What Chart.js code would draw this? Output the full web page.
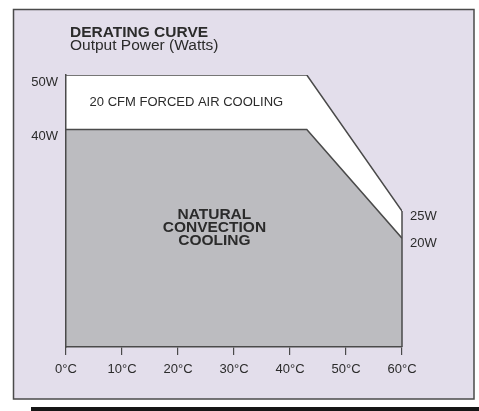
<!DOCTYPE html>
<html>
<head>
<meta charset="utf-8">
<script src="https://cdn.jsdelivr.net/npm/chart.js@4/dist/chart.umd.min.js"></script>
<style>
  html, body { margin: 0; padding: 0; background: #fff; }
  canvas { display: block; }
</style>
</head>
<body>
<canvas id="derating" width="479" height="411"></canvas>
<script>
"use strict";
// ambient temperature breakpoints (°C)
var temps = [0, 43, 60];
// output power (W) for each breakpoint
var forcedAir = [50, 50, 25];
var convection = [40, 40, 20];
// tick labels
var xTicks = [0, 10, 20, 30, 40, 50, 60];
var leftTicks = [40, 50];
var rightTicks = [20, 25];
var titleText = 'DERATING CURVE';
var subtitleText = 'Output Power (Watts)';
var forcedLabel = ['20 CFM FORCED AIR COOLING'];
var convectionLabel = ['NATURAL', 'CONVECTION', 'COOLING'];

var fontFamily = '"Liberation Sans", Arial, Helvetica, sans-serif';
var lineColor = '#4a4a4a';
var textColor = '#2b2b2b';
var lavender = '#e3deeb';
var grayFill = '#bcbcc0';

function points(ys) {
    return temps.map(function (t, i) { return { x: t, y: ys[i] }; });
}

var framePlugin = {
    id: 'frame',
    beforeDraw: function (chart) {
        var c = chart.ctx;
        c.save();
        c.fillStyle = '#ffffff';
        c.fillRect(0, 0, chart.width, chart.height);
        c.fillStyle = lavender;
        c.fillRect(13, 9, 461, 390);
        c.strokeStyle = lineColor;
        c.lineWidth = 1.5;
        c.strokeRect(13.5, 9.5, 460.5, 389.5);
        c.fillStyle = '#161616';
        c.fillRect(31, 407, 448, 4);

        c.fillStyle = textColor;
        c.textBaseline = 'alphabetic';
        c.font = 'bold 15.5px ' + fontFamily;
        c.fillText(titleText, 70, 37);
        c.font = '15.5px ' + fontFamily;
        c.fillText(subtitleText, 70, 50);
        c.restore();
    },
    afterDatasetsDraw: function (chart) {
        var c = chart.ctx;
        var xs = chart.scales.x;
        var ys = chart.scales.y;
        var last = temps.length - 1;
        c.save();
        // closing edge of the forced air area
        c.strokeStyle = lineColor;
        c.lineWidth = 1.5;
        c.beginPath();
        c.moveTo(xs.getPixelForValue(temps[last]), ys.getPixelForValue(forcedAir[last]));
        c.lineTo(xs.getPixelForValue(temps[last]), ys.getPixelForValue(0));
        c.stroke();

        c.fillStyle = textColor;
        c.textAlign = 'center';
        c.textBaseline = 'middle';
        c.font = '13px ' + fontFamily;
        var fx = xs.getPixelForValue((temps[0] + temps[1]) / 2);
        var fy = ys.getPixelForValue((forcedAir[0] + convection[0]) / 2);
        c.fillText(forcedLabel[0], fx, fy);

        c.font = 'bold 15.5px ' + fontFamily;
        var nx = xs.getPixelForValue(26.5);
        var ny = ys.getPixelForValue(22);
        convectionLabel.forEach(function (line, i) {
            c.fillText(line, nx, ny + (i - 1) * 13);
        });
        c.restore();
    }
};

var tickFont = { family: fontFamily, size: 13 };

var config = {
    type: 'line',
    data: {
        datasets: [
            {
                label: 'Natural convection',
                data: points(convection),
                order: 1,
                borderColor: lineColor,
                borderWidth: 1.5,
                backgroundColor: grayFill,
                fill: 'origin',
                pointRadius: 0,
                tension: 0
            },
            {
                label: '20 CFM forced air',
                data: points(forcedAir),
                order: 2,
                borderColor: lineColor,
                borderWidth: 1.5,
                backgroundColor: '#ffffff',
                fill: 'origin',
                pointRadius: 0,
                tension: 0
            }
        ]
    },
    options: {
        responsive: false,
        animation: false,
        layout: { padding: { top: 75, left: 0, right: 0, bottom: 0 } },
        plugins: {
            legend: { display: false },
            tooltip: { enabled: false },
            title: { display: false }
        },
        scales: {
            x: {
                type: 'linear',
                min: xTicks[0],
                max: xTicks[xTicks.length - 1],
                afterBuildTicks: function (axis) {
                    axis.ticks = xTicks.map(function (v) { return { value: v }; });
                },
                afterFit: function (axis) { axis.height = 64; },
                grid: {
                    display: true,
                    drawOnChartArea: false,
                    drawTicks: true,
                    tickLength: 8,
                    color: lineColor,
                    lineWidth: 1.2
                },
                border: { display: true, color: lineColor, width: 1.5, z: 1 },
                ticks: {
                    color: textColor,
                    font: tickFont,
                    padding: 7,
                    maxRotation: 0,
                    autoSkip: false,
                    callback: function (v) { return v + '°C'; }
                }
            },
            y: {
                type: 'linear',
                position: 'left',
                min: 0,
                max: 50,
                afterBuildTicks: function (axis) {
                    axis.ticks = leftTicks.map(function (v) { return { value: v }; });
                },
                afterFit: function (axis) { axis.width = 66; },
                grid: { display: false, drawTicks: false },
                border: { display: true, color: lineColor, width: 1.5, z: 1 },
                ticks: {
                    color: textColor,
                    font: tickFont,
                    padding: 8,
                    labelOffset: 7,
                    callback: function (v) { return v + 'W'; }
                }
            },
            y2: {
                type: 'linear',
                position: 'right',
                min: 0,
                max: 50,
                afterBuildTicks: function (axis) {
                    axis.ticks = rightTicks.map(function (v) { return { value: v }; });
                },
                afterFit: function (axis) { axis.width = 77; },
                grid: { display: false, drawTicks: false },
                border: { display: false },
                ticks: {
                    color: textColor,
                    font: tickFont,
                    padding: 8,
                    labelOffset: 5,
                    callback: function (v) { return v + 'W'; }
                }
            }
        }
    },
    plugins: [framePlugin]
};

var chart = new Chart(document.getElementById('derating'), config);
</script>
</body>
</html>
